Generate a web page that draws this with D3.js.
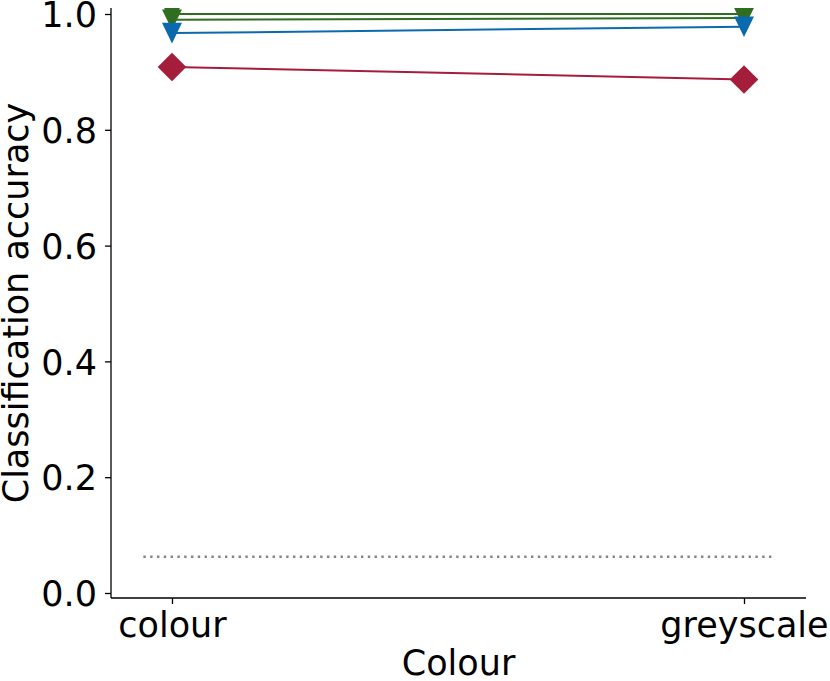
<!DOCTYPE html>
<html><head><meta charset="utf-8">
<script src="https://cdn.jsdelivr.net/npm/d3@7"></script>
<style>body{margin:0;background:#fff}text{font-family:"DejaVu Sans",sans-serif}</style>
</head><body><svg id="c" width="830" height="681"></svg>
<script>
const categories = ["colour", "greyscale"];
const seriesNames = ["red", "green1", "green2", "blue"];
const redValues = [0.9085, 0.887];
const green1Values = [1.0, 1.0];
const green2Values = [0.990, 0.993];
const blueValues = [0.967, 0.978];
const chance = 0.0625;
const yTicks = [0.0, 0.2, 0.4, 0.6, 0.8, 1.0];
const xLabel = "Colour", yLabel = "Classification accuracy";

const series = [
  {name: "red", values: redValues, color: "#a41d3a", marker: "diamond"},
  {name: "green1", values: green1Values, color: "#2f6e20", marker: "tri"},
  {name: "green2", values: green2Values, color: "#2f6e20", marker: "tri"},
  {name: "blue", values: blueValues, color: "#0b6aae", marker: "tri"}
];

const svg = d3.select("#c");
const L = 111, R = 806, T = 8, B = 598;
const x = d3.scaleLinear().domain([-0.1066, 1.1084]).range([L, R]);
const y = d3.scaleLinear().domain([-0.00864, 1.01036]).range([B, T]);
const fs = 35;

svg.append("defs").append("clipPath").attr("id", "clip")
  .append("rect").attr("x", L).attr("y", T).attr("width", R - L).attr("height", B - T);

// chance line
svg.append("line")
  .attr("x1", x(-0.05)).attr("x2", x(1.05))
  .attr("y1", y(chance)).attr("y2", y(chance))
  .attr("stroke", "#858585").attr("stroke-width", 2.4)
  .attr("stroke-dasharray", "2.4,4.4");

const g = svg.append("g").attr("clip-path", "url(#clip)");
const line = d3.line().x((d, i) => x(i)).y(d => y(d));
series.forEach(s => {
  g.append("path").attr("d", line(s.values)).attr("fill", "none")
    .attr("stroke", s.color).attr("stroke-width", 2);
  s.values.forEach((v, i) => {
    const cx = x(i), cy = y(v);
    let p;
    if (s.marker === "diamond") {
      const r = 14.3;
      p = `M${cx},${cy - r}L${cx + r},${cy}L${cx},${cy + r}L${cx - r},${cy}Z`;
    } else {
      const w = 10, h = 10.3;
      p = `M${cx - w},${cy - h}L${cx + w},${cy - h}L${cx},${cy + h}Z`;
    }
    g.append("path").attr("d", p).attr("fill", s.color);
  });
});

// y axis
const ya = svg.append("g").attr("transform", `translate(${L},0)`)
  .call(d3.axisLeft(y).tickValues(yTicks).tickFormat(d3.format(".1f")).tickSize(6).tickPadding(8));
ya.select(".domain").attr("d", `M0,${T}V${B}`).attr("stroke-width", 1.3);
ya.selectAll(".tick line").attr("stroke-width", 1.3);
ya.selectAll(".tick text").attr("font-size", fs).attr("fill", "#000").attr("font-family", "DejaVu Sans").attr("dy", "0.36em");

// x axis
const xa = svg.append("g").attr("transform", `translate(0,${B})`)
  .call(d3.axisBottom(x).tickValues([0, 1]).tickFormat(i => categories[i]).tickSize(6).tickPadding(8));
xa.select(".domain").attr("d", `M${L},0H${R}`).attr("stroke-width", 1.3);
xa.selectAll(".tick line").attr("stroke-width", 1.3);
xa.selectAll(".tick text").attr("font-size", fs).attr("fill", "#000").attr("font-family", "DejaVu Sans").attr("dy", null).attr("y", 39);

svg.append("text").attr("x", (L + R) / 2).attr("y", 675).attr("text-anchor", "middle")
  .attr("font-size", fs).text(xLabel);
svg.append("text").attr("transform", `translate(28,${(T + B) / 2}) rotate(-90)`)
  .attr("text-anchor", "middle").attr("font-size", fs).text(yLabel);
</script></body></html>
